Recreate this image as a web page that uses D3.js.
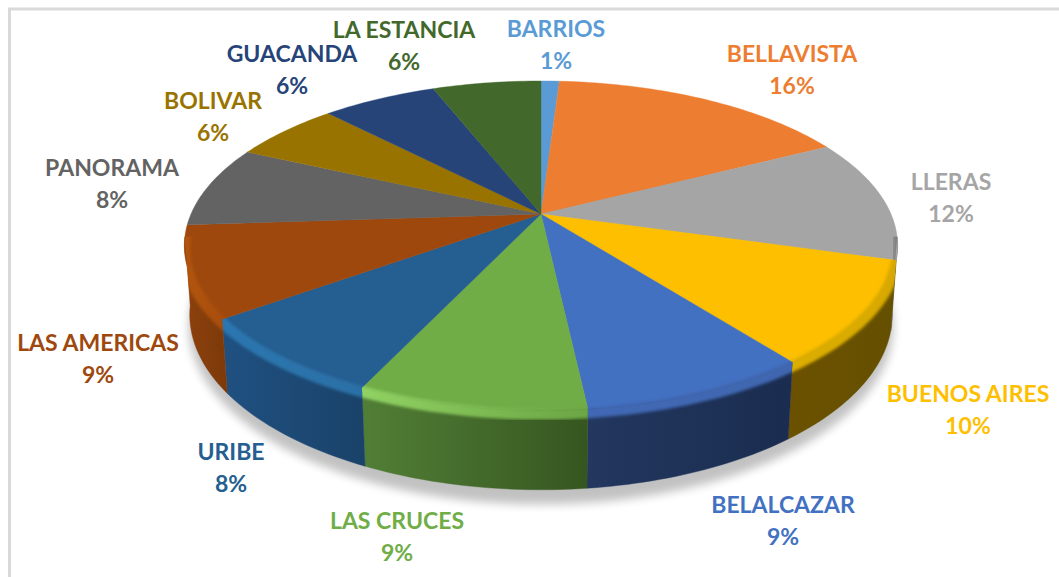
<!DOCTYPE html>
<html>
<head>
<meta charset="utf-8">
<script src="https://cdn.jsdelivr.net/npm/d3@7"></script>
<style>
  html, body { margin: 0; padding: 0; background: #fff; }
  svg { display: block; }
  text { font-family: Lato, "Open Sans", sans-serif; font-weight: 700; text-anchor: middle; }
</style>
</head>
<body>
<script>
// data (clockwise from the top)
const categories = ["BARRIOS", "BELLAVISTA", "LLERAS", "BUENOS AIRES", "BELALCAZAR", "LAS CRUCES",
  "URIBE", "LAS AMERICAS", "PANORAMA", "BOLIVAR", "GUACANDA", "LA ESTANCIA"];
const values = [1, 16.4, 12.05, 10.1, 8.7, 8.67, 8.03, 8.95, 8, 5.9, 6.25, 5.9];

// colours
const topColors = ["#5b9bd5", "#ed7d31", "#a5a5a5", "#fdbf00", "#4371c2", "#70ad47",
  "#255e91", "#9e480e", "#636363", "#997300", "#264478", "#43682b"];
const wallLeft = ["#37618a", "#8e4b1e", "#5f5f5f", "#6b5100", "#23375f", "#517e36",
  "#1f5080", "#8a400c", "#3c3c3c", "#5c4500", "#172948", "#28401a"];
const wallRight = ["#37618a", "#8e4b1e", "#505050", "#655000", "#1a2d50", "#365620",
  "#1a4269", "#7d390a", "#3c3c3c", "#5c4500", "#172948", "#28401a"];
const bevelLeft = ["#5b9bd5", "#ed7d31", "#8a8a8a", "#dcae00", "#4068b4", "#90d263",
  "#2a76b0", "#b25410", "#636363", "#997300", "#264478", "#43682b"];
const bevelRight = ["#5b9bd5", "#ed7d31", "#666666", "#d8a800", "#3f66b0", "#6ca644",
  "#2a70a6", "#a84e0f", "#636363", "#997300", "#264478", "#43682b"];

// label centres, name line and percent line
const labelX = [556, 792, 951, 968, 783, 397, 231, 98, 112, 213, 292, 404];
const labelY = [29, 54, 182, 394, 505, 521, 452, 343, 168, 101, 54, 30];

const width = 1059, height = 577;
const cx = 541, cy = 214;     // where the slices meet
const rx = 350, ry = 158.5;   // pie size before perspective
const persp = 0.1915;         // near side looks bigger
const depth = 68.5, depthPersp = 0.0146;

// circle angle + radius + depth -> screen
function project(a, r, z) {
  const X = Math.sin(a) * r, Y = -Math.cos(a) * r;
  const s = 1 / (1 - persp * Y + depthPersp * z);
  return [cx + rx * X * s, cy + (ry * Y + depth * z) * s];
}

function arcPoints(a0, a1, r, z) {
  const n = Math.max(2, Math.ceil(Math.abs(a1 - a0) / 0.02));
  return d3.range(n + 1).map(i => project(a0 + (a1 - a0) * i / n, r, z));
}

const line = d3.line();
const closed = pts => line(pts) + "Z";

const svg = d3.select("body").append("svg")
  .attr("width", width)
  .attr("height", height);

const defs = svg.append("defs");
defs.append("filter").attr("id", "soft")
  .attr("x", "-20%").attr("y", "-20%").attr("width", "140%").attr("height", "140%")
  .append("feGaussianBlur").attr("stdDeviation", 1.6);
defs.append("filter").attr("id", "shadow")
  .attr("x", "-10%").attr("y", "-10%").attr("width", "120%").attr("height", "120%")
  .append("feGaussianBlur").attr("stdDeviation", 5);

// frame of the picture, open on the right and bottom
svg.append("path")
  .attr("d", line([[9.5, height], [9.5, 9], [width, 9]]))
  .attr("fill", "none")
  .attr("stroke", "#d9d9d9")
  .attr("stroke-width", 3);

const pie = d3.pie().sort(null).value(d => d);
const slices = pie(values);
const total = d3.sum(values);
const pct = d3.format(".0%");

// the wall only shows on the near side
const wallFrom = 98 * Math.PI / 180, wallTo = 262 * Math.PI / 180;
const visible = slices.map(d => ({
  a0: Math.max(d.startAngle, wallFrom),
  a1: Math.min(d.endAngle, wallTo),
  i: d.index
})).filter(d => d.a1 > d.a0);

// ground shadow
svg.append("path")
  .attr("d", closed(arcPoints(0, 2 * Math.PI, 1.005, 1.17)))
  .attr("fill", "#000")
  .attr("opacity", 0.24)
  .attr("filter", "url(#shadow)");

function gradient(id, d, c0, c1, z) {
  const p0 = project(d.a0, 1, z), p1 = project(d.a1, 1, z);
  const g = defs.append("linearGradient").attr("id", id)
    .attr("gradientUnits", "userSpaceOnUse")
    .attr("x1", Math.min(p0[0], p1[0])).attr("x2", Math.max(p0[0], p1[0]))
    .attr("y1", 0).attr("y2", 0);
  g.append("stop").attr("offset", 0).attr("stop-color", c0);
  g.append("stop").attr("offset", 1).attr("stop-color", c1);
}

visible.forEach(d => {
  gradient("wall" + d.i, d, wallLeft[d.i], wallRight[d.i], 1);
  gradient("bevel" + d.i, d, bevelLeft[d.i], bevelRight[d.i], 0);
  // keeps the blurred rim inside its own slice
  defs.append("clipPath").attr("id", "clip" + d.i)
    .append("path")
    .attr("d", closed(arcPoints(d.a0, d.a1, 0.9, 0)
      .concat([project(d.a1, 1, 0)])
      .concat(arcPoints(d.a1, d.a0, 1, 1))
      .concat([project(d.a0, 1, 0)])));
});

// walls
svg.append("g").selectAll("path")
  .data(visible)
  .join("path")
  .attr("d", d => closed(arcPoints(d.a0, d.a1, 1, 0).concat(arcPoints(d.a1, d.a0, 1, 1))))
  .attr("fill", d => "url(#wall" + d.i + ")")
  .attr("stroke", d => "url(#wall" + d.i + ")")
  .attr("stroke-width", 0.4);

// top faces
svg.append("g").selectAll("path")
  .data(slices)
  .join("path")
  .attr("d", d => closed([[cx, cy]].concat(arcPoints(d.startAngle, d.endAngle, 1, 0))))
  .attr("fill", (d, i) => topColors[i])
  .attr("stroke", (d, i) => topColors[i])
  .attr("stroke-width", 0.4);

// rounded rim between top and wall
svg.append("g").selectAll("g")
  .data(visible)
  .join("g")
  .attr("clip-path", d => "url(#clip" + d.i + ")")
  .append("path")
  .attr("d", d => line(arcPoints(d.a0 - 0.05, d.a1 + 0.05, 1, 0.05)))
  .attr("fill", "none")
  .attr("stroke", d => "url(#bevel" + d.i + ")")
  .attr("stroke-width", 11)
  .attr("filter", "url(#soft)");

// labels
const labels = svg.append("g").selectAll("text")
  .data(slices)
  .join("text")
  .attr("fill", (d, i) => topColors[i])
  .style("font-size", "23px");

labels.append("tspan")
  .attr("x", (d, i) => labelX[i])
  .attr("y", (d, i) => labelY[i] + 8)
  .text((d, i) => categories[i]);

labels.append("tspan")
  .attr("x", (d, i) => labelX[i])
  .attr("y", (d, i) => labelY[i] + 40)
  .text(d => pct(d.value / total));
</script>
</body>
</html>
